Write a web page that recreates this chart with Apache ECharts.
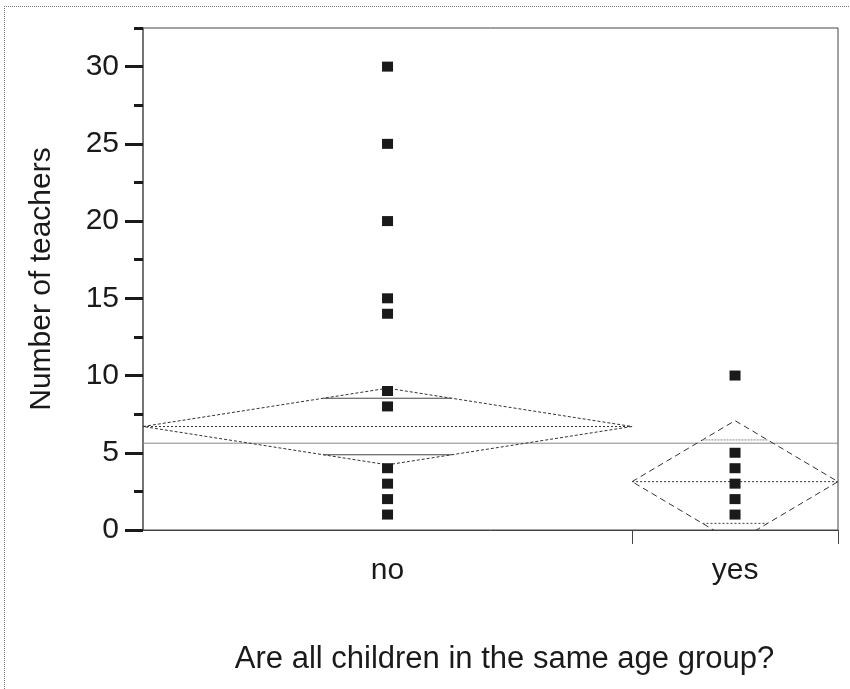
<!DOCTYPE html>
<html><head><meta charset="utf-8">
<script src="https://cdn.jsdelivr.net/npm/echarts@6/dist/echarts.min.js"></script>
<style>html,body{margin:0;padding:0;background:#fff}#c{width:850px;height:689px}</style>
</head><body><div id="c"></div>
<script>
// ---- data ----
const categories = ['no', 'yes'];
const groupCounts = [19, 8];            // group widths (proportional to n)
const noValues = [30, 25, 20, 15, 14, 9, 8, 4, 3, 2, 1];
const yesValues = [10, 5, 4, 3, 2, 1];
const groupMeans = [6.7, 3.13];
const ciUpper = [9.18, 7.08];           // upper 95% CI (diamond top)
const overlapUpper = [8.53, 5.83];      // upper overlap mark
const grandMean = 5.62;
const yTicks = [0, 5, 10, 15, 20, 25, 30];
const yMinorTicks = [2.5, 7.5, 12.5, 17.5, 22.5, 27.5, 32.5];
const yMax = 32.5;

// group extents along the x scale
const starts = [], ends = [], centers = [];
let acc = 0;
groupCounts.forEach(n => { starts.push(acc); acc += n; ends.push(acc); centers.push((starts[starts.length-1] + acc) / 2); });
const xMax = acc;

const FONT = "'Liberation Sans', Arial, Helvetica, sans-serif";
const chart = echarts.init(document.getElementById('c'), null, {renderer: 'canvas'});

const diamondData = categories.map((c, i) => [starts[i], ends[i], groupMeans[i], ciUpper[i], overlapUpper[i]]);

chart.setOption({
  animation: false,
  backgroundColor: '#fff',
  grid: {left: 143, right: 12, top: 28, bottom: 159, show: true, borderColor: '#444', borderWidth: 1, backgroundColor: 'transparent'},
  graphic: [
    {type: 'line', shape: {x1: 4, y1: 6.5, x2: 850, y2: 6.5}, style: {stroke: '#777', lineWidth: 1, lineDash: [1, 1]}},
    {type: 'line', shape: {x1: 4.5, y1: 6, x2: 4.5, y2: 689}, style: {stroke: '#777', lineWidth: 1, lineDash: [1, 1]}}
  ],
  xAxis: {
    type: 'value', min: 0, max: xMax,
    name: 'Are all children in the same age group?',
    nameLocation: 'middle', nameGap: 114,
    nameTextStyle: {fontFamily: FONT, fontSize: 31, color: '#1a1a1a', padding: [0, 0, 0, 28]},
    axisLine: {show: true, lineStyle: {color: '#444', width: 1}},
    axisTick: {show: true, customValues: [ends[0], ends[1]], length: 14, lineStyle: {color: '#444', width: 1}},
    axisLabel: {show: true, customValues: centers, margin: 26, fontFamily: FONT, fontSize: 30, color: '#1a1a1a',
      formatter: v => { const i = centers.findIndex(c => Math.abs(c - v) < 1e-6); return i >= 0 ? categories[i] : ''; }},
    splitLine: {show: false}
  },
  yAxis: [{
    type: 'value', min: 0, max: yMax,
    name: 'Number of teachers',
    nameLocation: 'middle', nameGap: 86,
    nameTextStyle: {fontFamily: FONT, fontSize: 30, color: '#1a1a1a'},
    axisLine: {show: true, lineStyle: {color: '#666', width: 1.5}},
    axisTick: {show: true, customValues: yTicks, length: 18, lineStyle: {color: '#1a1a1a', width: 3}},
    axisLabel: {show: true, customValues: yTicks, margin: 24, fontFamily: FONT, fontSize: 30, color: '#1a1a1a'},
    splitLine: {show: false}
  }, {
    type: 'value', min: 0, max: yMax, position: 'left',
    axisLine: {show: false},
    axisTick: {show: true, customValues: yMinorTicks, length: 9, lineStyle: {color: '#1a1a1a', width: 3}},
    axisLabel: {show: false},
    splitLine: {show: false}
  }],
  series: [
    {
      type: 'line', data: [[0, grandMean], [xMax, grandMean]], symbol: 'none',
      lineStyle: {color: '#8a8a8a', width: 1}, z: 2
    },
    {
      type: 'custom', clip: true, data: diamondData, z: 3,
      renderItem: (params, api) => {
        const x0 = api.value(0), x1 = api.value(1), m = api.value(2), up = api.value(3), ov = api.value(4);
        const xc = (x0 + x1) / 2;
        const lo = 2 * m - up, ovl = 2 * m - ov;
        const pL = api.coord([x0, m]), pR = api.coord([x1, m]);
        const pT = api.coord([xc, up]), pB = api.coord([xc, lo]);
        const f = (ov - m) / (up - m);
        const hw = (1 - f) * (x1 - x0) / 2;
        const a = api.coord([xc - hw, ov]), b = api.coord([xc + hw, ov]);
        const c = api.coord([xc - hw, ovl]), d = api.coord([xc + hw, ovl]);
        const isNo = params.dataIndex === 0;
        const dash = isNo ? [3, 2] : [6, 4];
        return {type: 'group', children: [
          {type: 'polygon', shape: {points: [pL, pT, pR, pB]}, style: {fill: null, stroke: '#333', lineWidth: 1, lineDash: dash}},
          {type: 'line', shape: {x1: pL[0], y1: pL[1], x2: pR[0], y2: pR[1]}, style: {stroke: '#333', lineWidth: 1, lineDash: [2, 2]}},
          {type: 'line', shape: {x1: a[0], y1: a[1], x2: b[0], y2: b[1]}, style: {stroke: isNo ? '#444' : '#888', lineWidth: 1, lineDash: isNo ? null : [2, 1]}},
          {type: 'line', shape: {x1: c[0], y1: c[1], x2: d[0], y2: d[1]}, style: {stroke: '#444', lineWidth: 1, lineDash: isNo ? null : [2, 2]}}
        ]};
      }
    },
    {
      type: 'scatter', symbol: 'rect', symbolSize: [11, 10], z: 4,
      itemStyle: {color: '#1a1a1a', opacity: 1},
      data: noValues.map(v => [centers[0], v])
    },
    {
      type: 'scatter', symbol: 'rect', symbolSize: [11, 10], z: 4,
      itemStyle: {color: '#1a1a1a', opacity: 1},
      data: yesValues.map(v => [centers[1], v])
    }
  ]
});
</script>
</body></html>
